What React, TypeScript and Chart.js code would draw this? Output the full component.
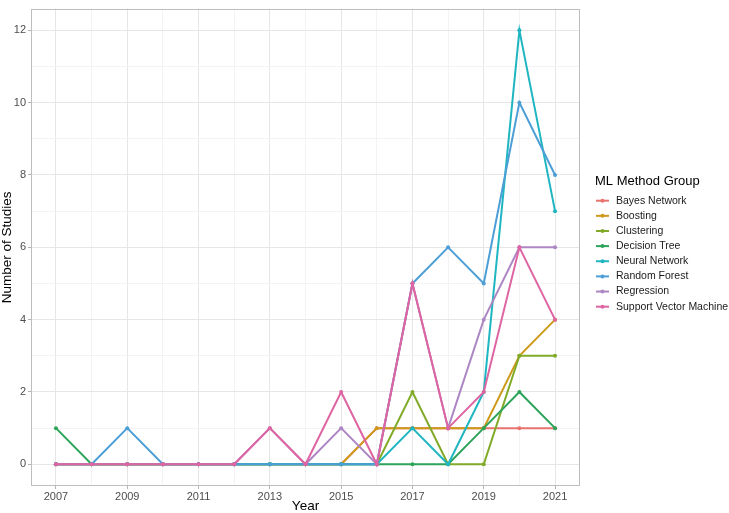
import React, { useEffect, useRef } from "react";
import { Chart, registerables } from "chart.js";

Chart.register(...registerables);

const years = [2007, 2008, 2009, 2010, 2011, 2012, 2013, 2014, 2015, 2016, 2017, 2018, 2019, 2020, 2021];
const xLabelYears = [2007, 2009, 2011, 2013, 2015, 2017, 2019, 2021];
const yTickValues = [0, 1, 2, 3, 4, 5, 6, 7, 8, 9, 10, 11, 12];
const yLabelValues = [0, 2, 4, 6, 8, 10, 12];

const seriesNames = [
  "Bayes Network",
  "Boosting",
  "Clustering",
  "Decision Tree",
  "Neural Network",
  "Random Forest",
  "Regression",
  "Support Vector Machine",
];

const bayesNetwork = [0, 0, 0, 0, 0, 0, 0, 0, 0, 1, 1, 1, 1, 1, 1];
const boosting = [0, 0, 0, 0, 0, 0, 0, 0, 0, 1, 1, 1, 1, 3, 4];
const clustering = [0, 0, 0, 0, 0, 0, 0, 0, 0, 0, 2, 0, 0, 3, 3];
const decisionTree = [1, 0, 0, 0, 0, 0, 0, 0, 0, 0, 0, 0, 1, 2, 1];
const neuralNetwork = [0, 0, 0, 0, 0, 0, 0, 0, 0, 0, 1, 0, 2, 12, 7];
const randomForest = [0, 0, 1, 0, 0, 0, 0, 0, 0, 0, 5, 6, 5, 10, 8];
const regression = [0, 0, 0, 0, 0, 0, 1, 0, 1, 0, 5, 1, 4, 6, 6];
const supportVectorMachine = [0, 0, 0, 0, 0, 0, 1, 0, 2, 0, 5, 1, 2, 6, 4];

const seriesValues = [
  bayesNetwork,
  boosting,
  clustering,
  decisionTree,
  neuralNetwork,
  randomForest,
  regression,
  supportVectorMachine,
];

const seriesColors = [
  "#E8736E",
  "#CE9A1C",
  "#80AA28",
  "#2EA35A",
  "#1FB6C1",
  "#4C9ED6",
  "#AD86C4",
  "#DE64A2",
];

const FONT = "'Liberation Sans', Arial, Helvetica, sans-serif";

const panelAndLegend = {
  id: "panelAndLegend",
  afterDatasetsDraw(chart: any) {
    const { ctx, chartArea } = chart;
    ctx.save();
    ctx.strokeStyle = "#BDBDBD";
    ctx.lineWidth = 1;
    ctx.strokeRect(
      Math.round(chartArea.left) + 0.5,
      Math.round(chartArea.top) + 0.5,
      Math.round(chartArea.right - chartArea.left) - 1,
      Math.round(chartArea.bottom - chartArea.top) - 1
    );
    ctx.restore();
  },
  afterDraw(chart: any) {
    const { ctx, chartArea } = chart;
    const x0 = chartArea.right + 15;
    ctx.save();
    ctx.fillStyle = "#000000";
    ctx.font = `13px ${FONT}`;
    ctx.textBaseline = "middle";
    ctx.textAlign = "left";
    ctx.fillText("ML Method Group", x0, 181);
    const step = 15.14;
    chart.data.datasets.forEach((ds: any, i: number) => {
      const y = 200.7 + i * step;
      ctx.strokeStyle = ds.borderColor;
      ctx.lineWidth = 2;
      ctx.beginPath();
      ctx.moveTo(x0 + 1, y);
      ctx.lineTo(x0 + 14, y);
      ctx.stroke();
      ctx.fillStyle = ds.borderColor;
      ctx.beginPath();
      ctx.arc(x0 + 7.5, y, 2, 0, Math.PI * 2);
      ctx.fill();
      ctx.fillStyle = "#1A1A1A";
      ctx.font = `10.5px ${FONT}`;
      ctx.fillText(ds.label, x0 + 21, y);
    });
    ctx.restore();
  },
};

export default function App() {
  const canvasRef = useRef<HTMLCanvasElement | null>(null);

  useEffect(() => {
    const canvas = canvasRef.current;
    if (!canvas) return;
    const datasets = seriesNames.map((name, i) => ({
      label: name,
      data: years.map((yr, j) => ({ x: yr, y: seriesValues[i][j] })),
      borderColor: seriesColors[i],
      backgroundColor: seriesColors[i],
      pointBackgroundColor: seriesColors[i],
      pointBorderWidth: 0,
      pointRadius: 2,
      pointHoverRadius: 2,
      borderWidth: 2,
      tension: 0,
      fill: false,
      order: seriesNames.length - i,
    }));

    const chart = new Chart(canvas, {
      type: "line",
      data: { datasets },
      options: {
        responsive: false,
        animation: false,
        events: [],
        layout: { padding: { left: 0, top: 0, right: 149, bottom: 0 } },
        plugins: {
          legend: { display: false },
          tooltip: { enabled: false },
        },
        scales: {
          x: {
            type: "linear",
            min: 2006.3,
            max: 2021.7,
            afterBuildTicks: (scale: any) => {
              scale.ticks = years.map((v) => ({ value: v }));
            },
            afterFit: (scale: any) => {
              scale.height = 27;
            },
            ticks: {
              autoSkip: false,
              maxRotation: 0,
              padding: 1,
              color: "#4D4D4D",
              font: { family: FONT, size: 11 },
              callback: (v: any) => (xLabelYears.includes(Number(v)) ? String(v) : ""),
            },
            grid: {
              color: (ctx: any) =>
                ctx.tick && xLabelYears.includes(ctx.tick.value) ? "#E6E6E6" : "#F3F3F3",
              lineWidth: 1,
              tickLength: 3,
              tickColor: (ctx: any) =>
                ctx.tick && xLabelYears.includes(ctx.tick.value) ? "#B3B3B3" : "rgba(0,0,0,0)",
            },
            border: { display: false },
            title: {
              display: true,
              text: "Year",
              color: "#000000",
              font: { family: FONT, size: 13.5, lineHeight: 1 },
              padding: { top: 0, bottom: 0 },
            },
          },
          y: {
            type: "linear",
            min: -0.6,
            max: 12.6,
            afterBuildTicks: (scale: any) => {
              scale.ticks = yTickValues.map((v) => ({ value: v }));
            },
            afterFit: (scale: any) => {
              scale.width = 31;
            },
            ticks: {
              autoSkip: false,
              padding: 2,
              color: "#4D4D4D",
              font: { family: FONT, size: 11 },
              callback: (v: any) => (yLabelValues.includes(Number(v)) ? String(v) : ""),
            },
            grid: {
              color: (ctx: any) =>
                ctx.tick && yLabelValues.includes(ctx.tick.value) ? "#E6E6E6" : "#F3F3F3",
              lineWidth: 1,
              tickLength: 3,
              tickColor: (ctx: any) =>
                ctx.tick && yLabelValues.includes(ctx.tick.value) ? "#B3B3B3" : "rgba(0,0,0,0)",
            },
            border: { display: false },
            title: {
              display: true,
              text: "Number of Studies",
              color: "#000000",
              font: { family: FONT, size: 13.5, lineHeight: 1 },
              padding: { top: 1, bottom: 0 },
            },
          },
        },
      },
      plugins: [panelAndLegend],
    } as any);

    return () => {
      chart.destroy();
    };
  }, []);

  return (
    <div style={{ position: "fixed", top: 0, left: 0, width: 729, height: 513, background: "#FFFFFF" }}>
      <canvas ref={canvasRef} width={729} height={513} style={{ display: "block" }} />
    </div>
  );
}
